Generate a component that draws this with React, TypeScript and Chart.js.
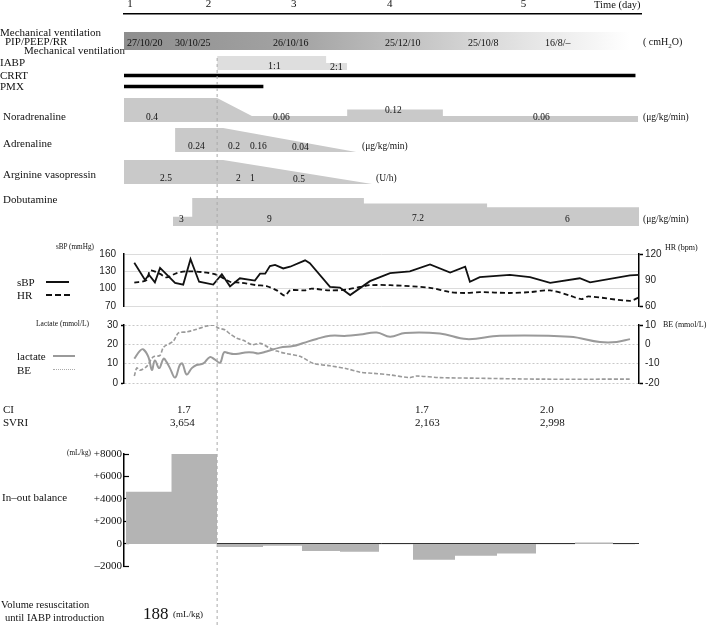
import React, { useEffect, useRef } from 'react';
import { Chart, registerables } from 'chart.js';
Chart.register(...registerables);

// ---------------- data (time axis in hours, 0..120) ----------------
const dayTickHours = [1.4, 19.6, 39.4, 61.7, 92.7];
const dayTickLabels = ['1', '2', '3', '4', '5'];

const ventPeriod: [number, number] = [0, 117.9];
const ventSettings = ['27/10/20', '30/10/25', '26/10/16', '25/12/10', '25/10/8', '16/8/–'];

const iabpStartHour = 21.7;
const iabpHours = [21.7, 47.1, 47.1, 52.0];
const iabpRatio = [1, 1, 0.5, 0.5];
const crrtPeriod: [number, number] = [0, 119.1];
const pmxPeriod: [number, number] = [0, 32.4];

const noradHours = [0, 21.7, 29.8, 52.0, 52.0, 74.3, 74.3, 119.8];
const noradDose = [0.4, 0.4, 0.06, 0.06, 0.12, 0.12, 0.06, 0.06];
const adrenHours = [11.9, 23.1, 54.1];
const adrenDose = [0.24, 0.24, 0];
const avpHours = [0, 23.1, 57.8];
const avpDose = [2.5, 2.5, 0];
const dobHours = [11.4, 15.9, 15.9, 55.9, 55.9, 84.6, 84.6, 120];
const dobDose = [3, 3, 9, 9, 7.2, 7.2, 6, 6];

const sbpHours = [2.4, 4.9, 5.8, 7.2, 8.4, 11.9, 13.8, 15.5, 17.5, 20.8, 22.8, 24.7, 27.0, 30.5, 31.7, 32.9, 34.0, 35.2, 37.1, 38.7, 42.2, 43.3, 48.0, 50.3, 52.7, 57.3, 62.0, 66.6, 71.3, 76.0, 79.5, 80.6, 82.9, 89.9, 94.6, 99.3, 106.2, 108.6, 117.9, 120];
const sbpValues = [145, 115, 124, 111, 136, 110, 107, 151, 112, 107, 125, 104, 118, 114, 126, 126, 139, 141, 135, 138, 149, 144, 103, 102, 89, 113, 127, 130, 142, 128, 138, 112, 120, 124, 120, 110, 118, 111, 123, 124];
const hrHours = [2.4, 5.3, 6.1, 8.4, 9.9, 12.3, 14.6, 18.5, 21.6, 24.7, 27.0, 30.9, 33.2, 35.6, 37.5, 38.7, 42.2, 43.7, 48.0, 51.9, 55.0, 57.3, 62.0, 71.3, 76.0, 79.5, 82.9, 89.9, 94.6, 99.3, 103.9, 106.6, 108.2, 117.9, 120];
const hrValues = [87, 90, 101, 97, 93, 98, 100, 99, 96, 88, 87, 84, 83, 78, 72, 78, 78, 80, 78, 79, 82, 84, 84, 81, 76, 75, 76, 75, 76, 78, 72, 68, 71, 66, 70];
const sbpTicks = [70, 100, 130, 160];
const hrTicks = [60, 90, 120];

const lactateHours = [2.4, 3.7, 4.5, 5.7, 6.5, 7.2, 8.2, 9.2, 9.9, 10.7, 11.9, 13.0, 13.6, 14.6, 15.8, 16.9, 18.5, 20.0, 21.2, 22.4, 23.3, 24.3, 25.5, 27.0, 28.2, 30.1, 31.3, 33.2, 36.3, 39.4, 41.8, 44.9, 48.0, 51.9, 55.0, 58.9, 62.0, 65.5, 73.6, 79.9, 87.6, 103.9, 110.9, 114.8, 117.9];
const lactateValues = [12.6, 16.6, 17.4, 13.4, 6.8, 11.7, 7.7, 12.6, 10.9, 7.7, 2.8, 9.3, 10.1, 4.4, 7.7, 9.3, 10.1, 13.4, 12.1, 10.5, 15.8, 15.5, 15.0, 15.3, 15.8, 15.8, 15.3, 16.3, 18.3, 19.1, 20.7, 22.8, 24.4, 24.4, 25.1, 26.1, 23.9, 25.9, 25.6, 22.7, 24.4, 23.9, 21.2, 21.2, 22.7];
const beHours = [2.4, 3.0, 3.7, 5.3, 6.8, 8.4, 9.2, 11.5, 12.7, 14.6, 16.5, 19.3, 20.8, 22.0, 23.5, 24.7, 26.3, 27.8, 29.8, 31.7, 33.6, 35.6, 37.9, 41.0, 44.1, 48.0, 51.9, 55.0, 58.1, 62.0, 66.6, 68.2, 73.6, 81.4, 96.9, 117.9];
const beValues = [-16.4, -12.2, -13.4, -11.4, -6.5, -5.7, -1.5, 1.7, 5.9, 6.4, 7.5, 9.5, 10, 8.4, 7.5, 5.4, 3.1, 2.1, -0.2, 0.5, -1.5, -3.5, -4.8, -6.2, -9.8, -11.1, -12.6, -14.4, -15, -15.8, -17.2, -16.4, -17.2, -17.5, -18, -18];
const lactateTicks = [0, 10, 20, 30];
const beTicks = [-20, -10, 0, 10];

const balanceEdges = [0.47, 11.07, 21.67, 32.39, 41.48, 50.33, 59.42, 67.34, 77.13, 86.91, 96.0, 105.09, 113.94, 119.07];
const balanceValues = [4650, 8000, -280, -170, -620, -700, -40, -1400, -1050, -850, -40, 120, -40];
const balanceTicks = [-2000, -1000, 0, 1000, 2000, 3000, 4000, 5000, 6000, 7000, 8000];

// ---------------- layout helpers ----------------
const W = 709;
const PAD_L = 124;
const PAD_R = 70;
const SERIF = "'Liberation Serif','Times New Roman',serif";
const SANS = "'Liberation Sans',Arial,sans-serif";

const pts = (xs: number[], ys: number[]) => xs.map((x, i) => ({ x, y: ys[i] }));
const xHidden = () => ({ type: 'linear', min: 0, max: 120, display: false });
const pad = (top: number, bottom: number) => ({ left: PAD_L, right: PAD_R, top, bottom });
const base = (extra: any) => ({
  responsive: false,
  animation: false,
  devicePixelRatio: 1,
  events: [],
  plugins: { legend: { display: false }, tooltip: { enabled: false } },
  ...extra,
});
const setTicks = (arr: number[]) => (s: any) => {
  s.ticks = arr.map((v) => ({ value: v }));
};
const fixW = (w: number) => (s: any) => {
  s.width = w;
};

function ChartBox({ top, height, config, z = 1 }: any) {
  const ref = useRef<HTMLCanvasElement>(null);
  useEffect(() => {
    const chart = new Chart(ref.current as HTMLCanvasElement, config);
    return () => chart.destroy();
  }, []);
  return (
    <canvas
      ref={ref}
      width={W}
      height={height}
      style={{ position: 'absolute', left: 0, top, width: W, height, zIndex: z, pointerEvents: 'none' }}
    />
  );
}

function Txt({ x, y, children, size = 11, family = SERIF, center = false, color = '#111' }: any) {
  return (
    <div
      style={{
        position: 'absolute',
        left: x,
        top: y,
        transform: center ? 'translate(-50%,-50%)' : 'translateY(-50%)',
        fontSize: size,
        fontFamily: family,
        lineHeight: 1,
        whiteSpace: 'nowrap',
        color,
        zIndex: 3,
      }}
    >
      {children}
    </div>
  );
}

function LegendLine({ x, y, w, style, color, width = 2 }: any) {
  return (
    <div
      style={{
        position: 'absolute',
        left: x,
        top: y - width / 2,
        width: w,
        height: 0,
        borderTop: `${width}px ${style} ${color}`,
        zIndex: 3,
      }}
    />
  );
}

const fillLine = (xs: number[], ys: number[], color: string, fill: any = 'origin') => ({
  data: pts(xs, ys),
  fill,
  backgroundColor: color,
  borderColor: 'transparent',
  borderWidth: 0,
  pointRadius: 0,
  tension: 0,
});

export default function App() {
  const dayAxisCfg = {
    type: 'line',
    data: { datasets: [{ data: [] }] },
    options: base({
      layout: { padding: { left: PAD_L, right: PAD_R - 2, top: 0, bottom: 0 } },
      scales: {
        x: {
          type: 'linear',
          position: 'top',
          min: 0,
          max: 120,
          afterBuildTicks: setTicks(dayTickHours),
          afterFit: (s: any) => {
            s.height = 14;
          },
          grid: { display: false, drawTicks: false },
          border: { display: true, color: '#000', width: 1.5 },
          ticks: {
            autoSkip: false,
            maxRotation: 0,
            padding: 3,
            color: '#111',
            font: { family: SERIF, size: 11 },
            callback: (_v: any, i: number) => dayTickLabels[i],
          },
        },
        y: { display: false, min: 0, max: 1 },
      },
    }),
  };

  const ventCfg = {
    type: 'bar',
    data: {
      labels: ['Mechanical ventilation'],
      datasets: [
        {
          data: [ventPeriod],
          borderWidth: 0,
          barPercentage: 1,
          categoryPercentage: 1,
          backgroundColor: (ctx: any) => {
            const ch = ctx.chart;
            const xs = ch.scales.x;
            if (!ch.chartArea || !xs) return '#9a9a9a';
            const g = ch.ctx.createLinearGradient(xs.getPixelForValue(ventPeriod[0]), 0, xs.getPixelForValue(ventPeriod[1]), 0);
            g.addColorStop(0, '#8e8e8e');
            g.addColorStop(0.35, '#a4a4a4');
            g.addColorStop(0.55, '#c0c0c0');
            g.addColorStop(0.75, '#dedede');
            g.addColorStop(1, '#ffffff');
            return g;
          },
        },
      ],
    },
    options: base({
      indexAxis: 'y',
      layout: { padding: pad(6, 2) },
      scales: { x: xHidden(), y: { display: false } },
    }),
  };

  const iabpCfg = {
    type: 'line',
    data: { datasets: [fillLine(iabpHours, iabpRatio, '#dedede')] },
    options: base({ layout: { padding: pad(4, 2) }, scales: { x: xHidden(), y: { display: false, min: 0, max: 1 } } }),
  };

  const crrtCfg = {
    type: 'bar',
    data: {
      labels: ['CRRT', 'PMX'],
      datasets: [{ data: [crrtPeriod, pmxPeriod], backgroundColor: '#000', borderWidth: 0, barThickness: 3 }],
    },
    options: base({ indexAxis: 'y', layout: { padding: pad(0, 0) }, scales: { x: xHidden(), y: { display: false } } }),
  };

  const noradCfg = {
    type: 'line',
    data: { datasets: [fillLine(noradHours, noradDose, '#c9c9c9', 'start')] },
    options: base({
      layout: { padding: pad(4, 2) },
      scales: { x: xHidden(), y: { type: 'logarithmic', display: false, min: 0.032, max: 0.4 } },
    }),
  };

  const adrenCfg = {
    type: 'line',
    data: { datasets: [fillLine(adrenHours, adrenDose, '#c9c9c9')] },
    options: base({ layout: { padding: pad(4, 2) }, scales: { x: xHidden(), y: { display: false, min: 0, max: 0.24 } } }),
  };

  const avpCfg = {
    type: 'line',
    data: { datasets: [fillLine(avpHours, avpDose, '#c9c9c9')] },
    options: base({ layout: { padding: pad(4, 2) }, scales: { x: xHidden(), y: { display: false, min: 0, max: 2.5 } } }),
  };

  const dobCfg = {
    type: 'line',
    data: { datasets: [fillLine(dobHours, dobDose, '#c9c9c9')] },
    options: base({ layout: { padding: pad(4, 2) }, scales: { x: xHidden(), y: { display: false, min: 0, max: 9 } } }),
  };

  const axisFont = { family: SANS, size: 10 };
  const endTickColor = (lo: number, hi: number) => (c: any) =>
    c.tick && (c.tick.value === lo || c.tick.value === hi) ? '#000' : 'transparent';

  const sbpCfg = {
    type: 'line',
    data: {
      datasets: [
        { data: pts(sbpHours, sbpValues), yAxisID: 'y', borderColor: '#111', borderWidth: 1.8, pointRadius: 0, tension: 0, fill: false },
        { data: pts(hrHours, hrValues), yAxisID: 'y2', borderColor: '#111', borderWidth: 1.8, borderDash: [5, 3], pointRadius: 0, tension: 0.3, fill: false },
      ],
    },
    options: base({
      layout: { padding: { left: PAD_L - 40, right: PAD_R - 40, top: 8, bottom: 5 } },
      scales: {
        x: xHidden(),
        y: {
          position: 'left',
          min: 70,
          max: 160,
          afterBuildTicks: setTicks(sbpTicks),
          afterFit: fixW(40),
          grid: { color: '#dcdcdc', drawTicks: false },
          border: { color: '#000', width: 1.5 },
          ticks: { padding: 8, color: '#222', font: axisFont },
        },
        y2: {
          position: 'right',
          min: 60,
          max: 120,
          afterBuildTicks: setTicks(hrTicks),
          afterFit: fixW(40),
          grid: { drawOnChartArea: false, drawTicks: true, tickLength: 4, tickWidth: 1.5, tickColor: endTickColor(60, 120) },
          border: { color: '#000', width: 1.5 },
          ticks: { padding: 2, color: '#222', font: axisFont },
        },
      },
    }),
  };

  const lacCfg = {
    type: 'line',
    data: {
      datasets: [
        { data: pts(lactateHours, lactateValues), yAxisID: 'y', borderColor: '#9a9a9a', borderWidth: 2, pointRadius: 0, tension: 0.4, fill: false },
        { data: pts(beHours, beValues), yAxisID: 'y2', borderColor: '#9a9a9a', borderWidth: 1.6, borderDash: [4, 2], pointRadius: 0, tension: 0.3, fill: false },
      ],
    },
    options: base({
      layout: { padding: { left: PAD_L - 40, right: PAD_R - 40, top: 8, bottom: 6 } },
      scales: {
        x: xHidden(),
        y: {
          position: 'left',
          min: 0,
          max: 30,
          afterBuildTicks: setTicks(lactateTicks),
          afterFit: fixW(40),
          grid: { color: '#c8c8c8', drawTicks: true, tickLength: 3, tickColor: endTickColor(0, 30), tickWidth: 1.5 },
          border: { color: '#000', width: 1.5, dash: [2, 2] },
          ticks: { padding: 3, color: '#222', font: axisFont },
        },
        y2: {
          position: 'right',
          min: -20,
          max: 10,
          afterBuildTicks: setTicks(beTicks),
          afterFit: fixW(40),
          grid: { drawOnChartArea: false, drawTicks: true, tickLength: 4, tickWidth: 1.5, tickColor: endTickColor(-20, 10) },
          border: { color: '#000', width: 1.5 },
          ticks: { padding: 2, color: '#222', font: axisFont },
        },
      },
    }),
  };

  const balancePoints = balanceEdges.map((x, i) => ({ x, y: balanceValues[Math.min(i, balanceValues.length - 1)] }));
  const balCfg = {
    type: 'line',
    data: {
      datasets: [
        {
          data: balancePoints,
          stepped: true,
          fill: 'origin',
          backgroundColor: '#b4b4b4',
          borderColor: 'transparent',
          borderWidth: 0,
          pointRadius: 0,
        },
      ],
    },
    options: base({
      layout: { padding: { left: PAD_L - 40, right: PAD_R, top: 14, bottom: 7 } },
      scales: {
        x: xHidden(),
        y: {
          position: 'left',
          min: -2000,
          max: 8000,
          z: 1,
          afterBuildTicks: setTicks(balanceTicks),
          afterFit: fixW(40),
          grid: {
            drawOnChartArea: true,
            color: (c: any) => (c.tick && c.tick.value === 0 ? '#333' : 'transparent'),
            drawTicks: true,
            tickLength: -5,
            tickColor: '#000',
            tickWidth: 1.2,
          },
          border: { color: '#000', width: 1.5 },
          ticks: {
            padding: 7,
            color: '#111',
            font: { family: SERIF, size: 11 },
            callback: (v: number) => (v % 2000 !== 0 ? '' : v > 0 ? '+' + v : v < 0 ? '–' + Math.abs(v) : '0'),
          },
        },
      },
    }),
  };

  const overlayCfg = {
    type: 'line',
    data: {
      datasets: [
        {
          data: [
            { x: iabpStartHour, y: 0 },
            { x: iabpStartHour, y: 1 },
          ],
          borderColor: '#aaaaaa',
          borderWidth: 1,
          borderDash: [3, 3],
          pointRadius: 0,
          fill: false,
        },
      ],
    },
    options: base({ layout: { padding: pad(0, 0) }, scales: { x: xHidden(), y: { display: false, min: 0, max: 1 } } }),
  };

  const ventLabelX = [127, 175, 273, 385, 468, 545];

  return (
    <div style={{ position: 'absolute', left: 0, top: 0, width: W, height: 625, background: '#fff', overflow: 'hidden' }}>
      <ChartBox top={0} height={18} config={dayAxisCfg} />
      <ChartBox top={26} height={26} config={ventCfg} />
      <ChartBox top={52} height={20} config={iabpCfg} />
      <ChartBox top={70} height={22} config={crrtCfg} />
      <ChartBox top={94} height={30} config={noradCfg} />
      <ChartBox top={124} height={30} config={adrenCfg} />
      <ChartBox top={156} height={30} config={avpCfg} />
      <ChartBox top={194} height={34} config={dobCfg} />
      <ChartBox top={240} height={80} config={sbpCfg} />
      <ChartBox top={316} height={76} config={lacCfg} />
      <ChartBox top={440} height={140} config={balCfg} />
      <ChartBox top={56} height={569} config={overlayCfg} z={2} />

      <Txt x={594} y={5} size={10.5}>Time (day)</Txt>

      <Txt x={0} y={32}>Mechanical ventilation</Txt>
      <Txt x={5} y={40.5}>PIP/PEEP/RR</Txt>
      <Txt x={24} y={50}>Mechanical ventilation</Txt>
      {ventSettings.map((s, i) => (
        <Txt key={s} x={ventLabelX[i]} y={42.5} size={10}>{s}</Txt>
      ))}
      <Txt x={643} y={43} size={10}>
        ( cmH<sub style={{ fontSize: 7 }}>2</sub>O)
      </Txt>

      <Txt x={0} y={62}>IABP</Txt>
      <Txt x={268} y={66} size={10}>1:1</Txt>
      <Txt x={330} y={67} size={10}>2:1</Txt>
      <Txt x={0} y={74.5}>CRRT</Txt>
      <Txt x={0} y={86}>PMX</Txt>

      <Txt x={3} y={116}>Noradrenaline</Txt>
      <Txt x={146} y={118} size={9.5}>0.4</Txt>
      <Txt x={273} y={118} size={9.5}>0.06</Txt>
      <Txt x={385} y={111} size={9.5}>0.12</Txt>
      <Txt x={533} y={118} size={9.5}>0.06</Txt>
      <Txt x={643} y={118} size={9.5}>(μg/kg/min)</Txt>

      <Txt x={3} y={143}>Adrenaline</Txt>
      <Txt x={188} y={147} size={9.5}>0.24</Txt>
      <Txt x={228} y={147} size={9.5}>0.2</Txt>
      <Txt x={250} y={147} size={9.5}>0.16</Txt>
      <Txt x={292} y={148} size={9.5}>0.04</Txt>
      <Txt x={362} y={147} size={9.5}>(μg/kg/min)</Txt>

      <Txt x={3} y={174}>Arginine vasopressin</Txt>
      <Txt x={160} y={179} size={9.5}>2.5</Txt>
      <Txt x={236} y={179} size={9.5}>2</Txt>
      <Txt x={250} y={179} size={9.5}>1</Txt>
      <Txt x={293} y={180} size={9.5}>0.5</Txt>
      <Txt x={376} y={179} size={9.5}>(U/h)</Txt>

      <Txt x={3} y={199}>Dobutamine</Txt>
      <Txt x={179} y={220} size={9.5}>3</Txt>
      <Txt x={267} y={220} size={9.5}>9</Txt>
      <Txt x={412} y={219} size={9.5}>7.2</Txt>
      <Txt x={565} y={220} size={9.5}>6</Txt>
      <Txt x={643} y={220} size={9.5}>(μg/kg/min)</Txt>

      <Txt x={56} y={248} size={7.2}>sBP (mmHg)</Txt>
      <Txt x={665} y={248} size={8}>HR (bpm)</Txt>
      <Txt x={17} y={282}>sBP</Txt>
      <LegendLine x={46} y={282} w={23} style="solid" color="#111" />
      <Txt x={17} y={295}>HR</Txt>
      <LegendLine x={46} y={295} w={24} style="dashed" color="#111" />

      <Txt x={36} y={324} size={7.5}>Lactate (mmol/L)</Txt>
      <Txt x={663} y={325} size={8}>BE (mmol/L)</Txt>
      <Txt x={17} y={356}>lactate</Txt>
      <LegendLine x={53} y={356} w={22} style="solid" color="#9a9a9a" />
      <Txt x={17} y={370}>BE</Txt>
      <LegendLine x={53} y={370} w={22} style="dotted" color="#aaaaaa" width={1.5} />

      <Txt x={3} y={409}>CI</Txt>
      <Txt x={3} y={422}>SVRI</Txt>
      <Txt x={177} y={409}>1.7</Txt>
      <Txt x={170} y={422}>3,654</Txt>
      <Txt x={415} y={409}>1.7</Txt>
      <Txt x={415} y={422}>2,163</Txt>
      <Txt x={540} y={409}>2.0</Txt>
      <Txt x={540} y={422}>2,998</Txt>

      <Txt x={67} y={454} size={7.2}>(mL/kg)</Txt>
      <Txt x={2} y={497}>In–out balance</Txt>

      <Txt x={1} y={605} size={10.5}>Volume resuscitation</Txt>
      <Txt x={5} y={618} size={10.5}>until IABP introduction</Txt>
      <Txt x={143} y={613} size={17}>188</Txt>
      <Txt x={173} y={614} size={9}>(mL/kg)</Txt>
    </div>
  );
}
